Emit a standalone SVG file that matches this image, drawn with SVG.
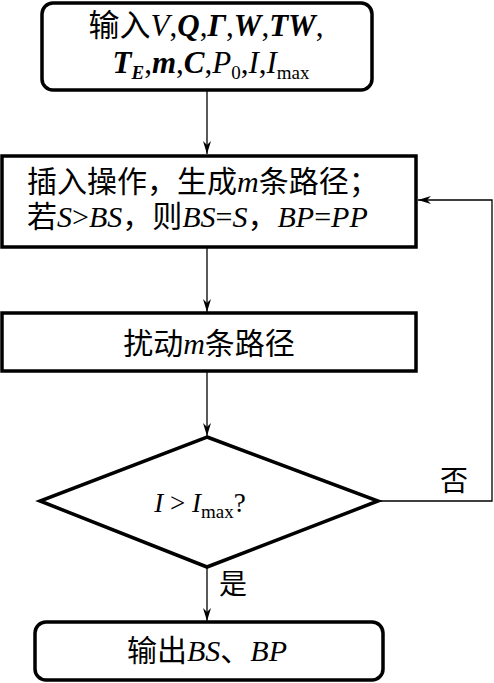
<svg xmlns="http://www.w3.org/2000/svg" width="494" height="683" viewBox="0 0 494 683">
<defs>
<style>
.box{fill:#fff;stroke:#000;stroke-width:3.5}
.ln{fill:none;stroke:#000;stroke-width:1.3}
.t{font-family:"Liberation Serif","Noto Sans CJK SC",serif;font-size:30px;fill:#000}
.i{font-style:italic}
.b{font-weight:bold;font-style:italic}
.s{font-size:19px}
</style>
<marker id="ah" markerWidth="14" markerHeight="8" refX="13" refY="4" orient="auto" markerUnits="userSpaceOnUse">
<path d="M0,0 L13,4 L0,8 L4,4 Z" fill="#000"/>
</marker>
</defs>
<g id="connectors">
<line class="ln" x1="207" y1="90" x2="207" y2="154" marker-end="url(#ah)"/>
<line class="ln" x1="207" y1="248" x2="207" y2="312" marker-end="url(#ah)"/>
<line class="ln" x1="207" y1="372" x2="207" y2="436" marker-end="url(#ah)"/>
<line class="ln" x1="207" y1="567" x2="207" y2="621" marker-end="url(#ah)"/>
<polyline class="ln" points="378,501 492,501 492,200 418,200" marker-end="url(#ah)"/>
</g>
<g id="n1">
<rect class="box" x="42" y="3" width="330" height="87" rx="11"/>
<text class="t" x="206" y="36" text-anchor="middle" style="font-size:31px">输入<tspan class="i">V</tspan>,<tspan class="b">Q</tspan>,<tspan class="b">Γ</tspan>,<tspan class="b">W</tspan>,<tspan class="b">TW</tspan>,</text>
<text class="t" x="211" y="73" text-anchor="middle" style="font-size:31px"><tspan class="b">T</tspan><tspan class="b s" dy="6">E</tspan><tspan dy="-6">,</tspan><tspan class="b">m</tspan>,<tspan class="b">C</tspan>,<tspan class="i">P</tspan><tspan class="s" dy="6">0</tspan><tspan dy="-6">,</tspan><tspan class="i">I</tspan>,<tspan class="i">I</tspan><tspan class="s" dy="6">max</tspan></text>
</g>
<g id="n2">
<rect class="box" x="2" y="156" width="414" height="91"/>
<text class="t" x="27" y="192">插入操作，生成<tspan class="i">m</tspan>条路径；</text>
<text class="t" x="27" y="227">若<tspan class="i">S</tspan>&gt;<tspan class="i">BS</tspan>，则<tspan class="i">BS</tspan>=<tspan class="i">S</tspan>，<tspan class="i">BP</tspan>=<tspan class="i">PP</tspan></text>
</g>
<g id="n3">
<rect class="box" x="2" y="313" width="414" height="58"/>
<text class="t" x="209" y="354" text-anchor="middle">扰动<tspan class="i">m</tspan>条路径</text>
</g>
<g id="n4">
<polygon class="box" points="207,437 378,501 207,567 40,501"/>
<text class="t" x="200" y="512" text-anchor="middle" style="font-size:27px"><tspan class="i">I</tspan> &gt; <tspan class="i">I</tspan><tspan class="s" dy="6">max</tspan><tspan dy="-6">?</tspan></text>
</g>
<text class="t" x="440" y="491" style="font-size:28px">否</text>
<text class="t" x="219" y="594" style="font-size:28px">是</text>
<g id="n5">
<rect class="box" x="35" y="622" width="348" height="58" rx="11"/>
<text class="t" x="207" y="661" text-anchor="middle">输出<tspan class="i">BS</tspan>、<tspan class="i">BP</tspan></text>
</g>
</svg>
